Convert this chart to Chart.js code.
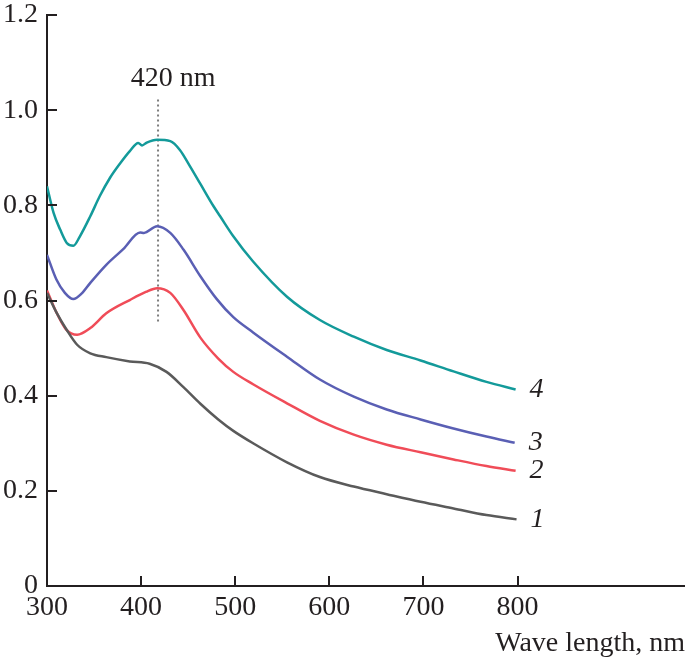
<!DOCTYPE html>
<html>
<head>
<meta charset="utf-8">
<script src="https://cdn.jsdelivr.net/npm/chart.js@4.4.1/dist/chart.umd.min.js"></script>
<style>
  html, body { margin: 0; padding: 0; background: #fff; }
  canvas { display: block; }
</style>
</head>
<body>
<canvas id="spectra" width="685" height="662"></canvas>
<script>
// curve 1 (black)
const wl1 = [300, 310, 321, 332, 346, 363, 388, 409, 427, 445, 463, 482, 498, 519, 555, 590, 626, 661, 697, 732, 767, 799];
const abs1 = [0.616, 0.575, 0.538, 0.507, 0.489, 0.481, 0.472, 0.467, 0.450, 0.418, 0.383, 0.350, 0.326, 0.300, 0.260, 0.229, 0.209, 0.193, 0.177, 0.163, 0.149, 0.140];

// curve 2 (red)
const wl2 = [300, 310, 320, 332, 346, 363, 388, 405, 417, 431, 445, 463, 482, 498, 519, 555, 590, 626, 661, 697, 732, 767, 798];
const abs2 = [0.621, 0.575, 0.540, 0.528, 0.542, 0.573, 0.601, 0.618, 0.626, 0.616, 0.580, 0.522, 0.478, 0.450, 0.424, 0.384, 0.347, 0.318, 0.297, 0.281, 0.266, 0.252, 0.242];

// curve 3 (blue)
const wl3 = [300, 310, 319, 328, 337, 346, 363, 381, 399, 403, 417, 431, 445, 463, 480, 498, 519, 555, 590, 626, 661, 697, 732, 767, 797];
const abs3 = [0.696, 0.644, 0.616, 0.603, 0.615, 0.637, 0.675, 0.708, 0.743, 0.742, 0.756, 0.742, 0.707, 0.651, 0.604, 0.565, 0.533, 0.482, 0.434, 0.398, 0.371, 0.350, 0.331, 0.314, 0.301];

// curve 4 (teal)
const wl4 = [300, 307, 314, 321, 328, 335, 346, 356, 367, 378, 388, 397, 401, 406, 417, 431, 441, 452, 463, 477, 484, 498, 519, 555, 590, 626, 661, 697, 732, 767, 798];
const abs4 = [0.840, 0.784, 0.749, 0.721, 0.715, 0.735, 0.777, 0.819, 0.858, 0.889, 0.914, 0.931, 0.926, 0.932, 0.938, 0.935, 0.917, 0.882, 0.845, 0.798, 0.777, 0.735, 0.682, 0.608, 0.559, 0.524, 0.496, 0.474, 0.451, 0.429, 0.413];

const curveNames = ["1", "2", "3", "4"];
const curveColors = ["#5a5a5a", "#f04c58", "#5a5fb4", "#139a9a"];

// dotted marker at the plasmon peak
const peakWl = 418;
const peakLabel = "420 nm";
const peakSpan = [0.556, 1.027];

const xTicks = [300, 400, 500, 600, 700, 800];
const yTicks = [0, 0.2, 0.4, 0.6, 0.8, 1.0, 1.2];

const FONT = "'Liberation Serif', 'Times New Roman', serif";
const INK = "#231f20";

function toPoints(xs, ys) {
  return xs.map((x, i) => ({ x: x, y: ys[i] }));
}

const series = [[wl1, abs1], [wl2, abs2], [wl3, abs3], [wl4, abs4]];

const datasets = series.map((s, i) => ({
  label: curveNames[i],
  data: toPoints(s[0], s[1]),
  borderColor: curveColors[i],
  borderWidth: 2.5,
  pointRadius: 0,
  cubicInterpolationMode: "monotone",
  fill: false,
}));

datasets.push({
  label: "peak",
  data: peakSpan.map((v) => ({ x: peakWl, y: v })),
  borderColor: "#7d7d7d",
  borderWidth: 2,
  borderDash: [2, 3],
  pointRadius: 0,
  fill: false,
});

// inward tick marks, curve numbers and the peak label
const decorations = {
  id: "decorations",
  afterDraw(chart) {
    const ctx = chart.ctx;
    const xs = chart.scales.x;
    const ys = chart.scales.y;
    const area = chart.chartArea;
    ctx.save();
    ctx.strokeStyle = INK;
    ctx.lineWidth = 2;
    xTicks.forEach((t) => {
      if (t === xs.min) return;
      const px = Math.round(xs.getPixelForValue(t));
      ctx.beginPath();
      ctx.moveTo(px, area.bottom);
      ctx.lineTo(px, area.bottom - 10);
      ctx.stroke();
    });
    yTicks.forEach((t) => {
      if (t === 0) return;
      const py = Math.round(ys.getPixelForValue(t));
      ctx.beginPath();
      ctx.moveTo(area.left, py);
      ctx.lineTo(area.left + 10, py);
      ctx.stroke();
    });

    ctx.fillStyle = INK;
    ctx.font = "italic 28px " + FONT;
    ctx.textAlign = "center";
    ctx.textBaseline = "middle";
    series.forEach((s, i) => {
      const lastX = s[0][s[0].length - 1];
      const lastY = s[1][s[1].length - 1];
      ctx.fillText(curveNames[i], xs.getPixelForValue(lastX) + 21, ys.getPixelForValue(lastY));
    });

    ctx.font = "28px " + FONT;
    ctx.textBaseline = "alphabetic";
    ctx.fillText(peakLabel, xs.getPixelForValue(peakWl) + 15, ys.getPixelForValue(peakSpan[1]) - 11);
    ctx.restore();
  },
};

new Chart(document.getElementById("spectra").getContext("2d"), {
  type: "line",
  data: { datasets: datasets },
  plugins: [decorations],
  options: {
    responsive: false,
    animation: false,
    layout: { padding: { top: 15, right: 0, left: 0, bottom: 0 } },
    plugins: {
      legend: { display: false },
      tooltip: { enabled: false },
    },
    scales: {
      x: {
        type: "linear",
        min: 300,
        max: 978,
        afterBuildTicks: (scale) => {
          scale.ticks = xTicks.map((v) => ({ value: v }));
        },
        afterFit: (scale) => {
          scale.height = 76;
          scale.paddingLeft = 0;
          scale.paddingRight = 0;
        },
        grid: { display: false, drawTicks: false },
        border: { display: true, color: INK, width: 2 },
        ticks: {
          padding: 5,
          color: INK,
          font: { family: FONT, size: 28 },
          maxRotation: 0,
          autoSkip: false,
        },
        title: {
          display: true,
          text: "Wave length, nm",
          align: "end",
          color: INK,
          font: { family: FONT, size: 28 },
          padding: { top: 0, bottom: 2 },
        },
      },
      y: {
        type: "linear",
        min: 0,
        max: 1.2,
        afterBuildTicks: (scale) => {
          scale.ticks = yTicks.map((v) => ({ value: v }));
        },
        afterFit: (scale) => {
          scale.width = 47;
          scale.paddingTop = 0;
          scale.paddingBottom = 0;
        },
        grid: { display: false, drawTicks: false },
        border: { display: true, color: INK, width: 2 },
        ticks: {
          padding: 9,
          color: INK,
          font: { family: FONT, size: 28 },
          callback: (v) => (v === 0 ? "0" : v.toFixed(1)),
        },
      },
    },
  },
});
</script>
</body>
</html>
